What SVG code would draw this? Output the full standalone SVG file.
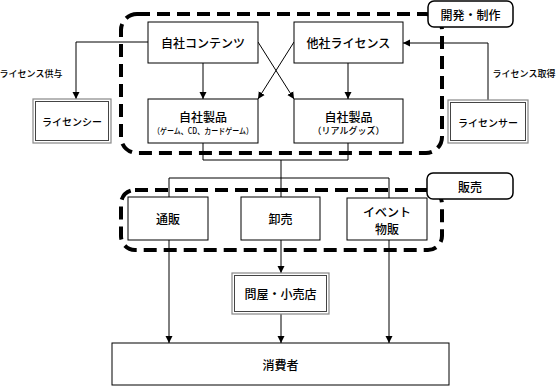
<svg xmlns="http://www.w3.org/2000/svg" width="558" height="387" viewBox="0 0 558 387">
<defs>
<marker id="ah" markerWidth="8" markerHeight="8" refX="7" refY="4" orient="auto" markerUnits="userSpaceOnUse">
<path d="M0,0.5 L7,4 L0,7.5 Z" fill="#000"/>
</marker>
<style>
.box{fill:#fff;stroke:#000;stroke-width:1}
.dash{fill:none;stroke:#000;stroke-width:4;stroke-dasharray:13,7}
.lbl{fill:#fff;stroke:#000;stroke-width:1.5}
.outer{fill:#fff;stroke:#888;stroke-width:1.2}
.inner{fill:none;stroke:#444;stroke-width:1}
.t{font-family:"Noto Sans CJK JP","Noto Sans",sans-serif;font-size:12px;font-weight:500;fill:#000;text-anchor:middle;dominant-baseline:central}
.s{font-size:8.5px}
.m{font-size:9px}
.n{font-size:10px}
.c{fill:none;stroke:#000;stroke-width:1}
</style>
</defs>
<rect width="558" height="387" fill="#fff"/>
<g id="group-dev"><rect class="dash" x="121" y="14" width="321" height="139" rx="16"/></g>
<g id="group-sales"><rect class="dash" x="121" y="190" width="321" height="60" rx="14"/></g>
<g id="connectors">
<path class="c" d="M148,42 H76 V99" marker-end="url(#ah)"/>
<path class="c" d="M488,100 V43 H403" marker-end="url(#ah)"/>
<path class="c" d="M203,63 V99" marker-end="url(#ah)"/>
<path class="c" d="M348,63 V99" marker-end="url(#ah)"/>
<path class="c" d="M258,42 L294,99" marker-end="url(#ah)"/>
<path class="c" d="M294,42 L258,99" marker-end="url(#ah)"/>
<path class="c" d="M203,143 V160 H348 V143 M281,160 V178 M169,197 V178 H389 V198 M281,178 V197"/>
<path class="c" d="M169,240 V343" marker-end="url(#ah)"/>
<path class="c" d="M281,240 V273" marker-end="url(#ah)"/>
<path class="c" d="M281,314 V343" marker-end="url(#ah)"/>
<path class="c" d="M389,240 V343" marker-end="url(#ah)"/>
</g>
<g id="label-dev"><rect class="lbl" x="428" y="1" width="85" height="26" rx="6"/><text class="t" x="470.5" y="14.5">開発・制作</text></g>
<g id="label-sales"><rect class="lbl" x="427" y="173" width="86" height="26" rx="6"/><text class="t" x="470" y="186">販売</text></g>
<g id="own-content"><rect class="box" x="148" y="22" width="110" height="41"/><text class="t" x="203" y="42.5">自社コンテンツ</text></g>
<g id="other-license"><rect class="box" x="294" y="22" width="109" height="41"/><text class="t" x="348.5" y="42.5">他社ライセンス</text></g>
<g id="own-product-1"><rect class="box" x="148" y="99" width="110" height="44"/><text class="t" x="203" y="116">自社製品</text><text class="t s" x="203" y="130" textLength="100" lengthAdjust="spacingAndGlyphs">（ゲーム、CD、カードゲーム）</text></g>
<g id="own-product-2"><rect class="box" x="294" y="99" width="109" height="44"/><text class="t" x="348.5" y="116">自社製品</text><text class="t m" x="348.5" y="130">（リアルグッズ）</text></g>
<g id="licensee"><rect class="outer" x="33" y="99" width="78" height="44"/><rect class="inner" x="35.5" y="101.5" width="73" height="39"/><text class="t n" x="72" y="121.5">ライセンシー</text></g>
<g id="licensor"><rect class="outer" x="448" y="100" width="80" height="43"/><rect class="inner" x="450.5" y="102.5" width="75" height="38"/><text class="t n" x="488" y="122">ライセンサー</text></g>
<text class="t m" x="31" y="73">ライセンス供与</text>
<text class="t m" x="524" y="73">ライセンス取得</text>
<g id="mail-order"><rect class="box" x="128" y="197" width="80" height="43"/><text class="t" x="168" y="218.5">通販</text></g>
<g id="wholesale"><rect class="box" x="241" y="197" width="79" height="43"/><text class="t" x="280.5" y="218.5">卸売</text></g>
<g id="event"><rect class="box" x="347" y="198" width="80" height="42"/><text class="t" x="387" y="211">イベント</text><text class="t" x="387" y="228">物販</text></g>
<g id="retail"><rect class="outer" x="232" y="273" width="97" height="41"/><rect class="inner" x="234.5" y="275.5" width="92" height="36"/><text class="t" x="280.5" y="293.5">問屋・小売店</text></g>
<g id="consumer"><rect class="box" x="112" y="343" width="337" height="42"/><text class="t" x="280.5" y="364">消費者</text></g>
</svg>
